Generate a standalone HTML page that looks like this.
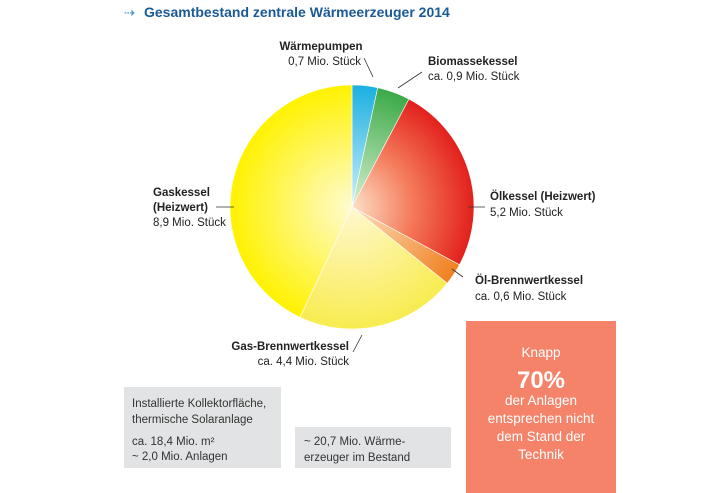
<!DOCTYPE html>
<html><head><meta charset="utf-8"><style>
body{margin:0;background:#fff;width:728px;height:493px;overflow:hidden;font-family:"Liberation Sans",sans-serif;}
svg{display:block}
</style></head><body>
<svg width="728" height="493" viewBox="0 0 728 493">
<defs>
<radialGradient id="gY" cx="352" cy="207" r="122" gradientUnits="userSpaceOnUse"><stop offset="0" stop-color="#fffbd0"/><stop offset="1" stop-color="#fff200"/></radialGradient>
<radialGradient id="gY2" cx="352" cy="207" r="122" gradientUnits="userSpaceOnUse"><stop offset="0" stop-color="#fff8d0"/><stop offset="1" stop-color="#f8ec50"/></radialGradient>
<radialGradient id="gR" cx="352" cy="207" r="122" gradientUnits="userSpaceOnUse"><stop offset="0" stop-color="#fde0c8"/><stop offset="0.5" stop-color="#f47a5a"/><stop offset="1" stop-color="#e2201c"/></radialGradient>
<radialGradient id="gO" cx="352" cy="207" r="122" gradientUnits="userSpaceOnUse"><stop offset="0" stop-color="#fde0c0"/><stop offset="1" stop-color="#f08020"/></radialGradient>
<radialGradient id="gG" cx="352" cy="207" r="122" gradientUnits="userSpaceOnUse"><stop offset="0" stop-color="#d8f0d0"/><stop offset="1" stop-color="#3caa48"/></radialGradient>
<radialGradient id="gB" cx="352" cy="207" r="122" gradientUnits="userSpaceOnUse"><stop offset="0" stop-color="#d0f0fa"/><stop offset="1" stop-color="#1ab0e0"/></radialGradient>
</defs>
<text x="124" y="17" font-size="13" fill="#3a8ac8">⇢</text>
<text x="144" y="17" font-size="14" font-weight="bold" fill="#1a5a96">Gesamtbestand zentrale Wärmeerzeuger 2014</text>
<g id="pie"></g>
<g font-size="11.5" fill="#222">
<text x="321" y="50" text-anchor="middle" font-weight="bold">Wärmepumpen</text>
<text x="361" y="65" text-anchor="end">0,7 Mio. Stück</text>
<line x1="364" y1="58" x2="373" y2="77" stroke="#333" stroke-width="0.8"/>
<text x="428" y="65" font-weight="bold">Biomassekessel</text>
<text x="428" y="80" >ca. 0,9 Mio. Stück</text>
<line x1="422" y1="72" x2="398" y2="88" stroke="#333" stroke-width="0.8"/>
<text x="490" y="200" font-weight="bold">Ölkessel (Heizwert)</text>
<text x="490" y="216">5,2 Mio. Stück</text>
<line x1="468" y1="207" x2="485" y2="207" stroke="#333" stroke-width="0.8"/>
<text x="475" y="284" font-weight="bold">Öl-Brennwertkessel</text>
<text x="475" y="300">ca. 0,6 Mio. Stück</text>
<line x1="452" y1="269" x2="463" y2="277" stroke="#333" stroke-width="0.8"/>
<text x="349" y="350" text-anchor="end" font-weight="bold">Gas-Brennwertkessel</text>
<text x="349" y="365" text-anchor="end">ca. 4,4 Mio. Stück</text>
<line x1="353" y1="352" x2="362" y2="335" stroke="#333" stroke-width="0.8"/>
<text x="153" y="196" font-weight="bold">Gaskessel</text>
<text x="153" y="211" font-weight="bold">(Heizwert)</text>
<text x="153" y="226">8,9 Mio. Stück</text>
<line x1="216" y1="207" x2="234" y2="207" stroke="#333" stroke-width="0.8"/>
</g>
<rect x="124" y="387" width="157" height="81" fill="#e2e3e4"/>
<g font-size="11.5" fill="#333">
<text x="132" y="407">Installierte Kollektorfläche,</text>
<text x="132" y="423">thermische Solaranlage</text>
<text x="132" y="445">ca. 18,4 Mio. m²</text>
<text x="132" y="460">~ 2,0 Mio. Anlagen</text>
</g>
<rect x="295" y="427" width="156" height="41" fill="#e2e3e4"/>
<g font-size="11.5" fill="#333">
<text x="304" y="445">~ 20,7 Mio. Wärme-</text>
<text x="304" y="461">erzeuger im Bestand</text>
</g>
<rect x="466" y="321" width="150" height="172" fill="#f4836a"/>
<g fill="#fff" text-anchor="middle" font-size="13.5">
<text x="541" y="357">Knapp</text>
<text x="541" y="388" font-size="24" font-weight="bold">70%</text>
<text x="541" y="405">der Anlagen</text>
<text x="541" y="423">entsprechen nicht</text>
<text x="541" y="441">dem Stand der</text>
<text x="541" y="459">Technik</text>
</g>
</svg>
<script>
const categories=["Wärmepumpen","Biomassekessel","Ölkessel (Heizwert)","Öl-Brennwertkessel","Gas-Brennwertkessel","Gaskessel (Heizwert)"];
const values=[0.7,0.9,5.2,0.6,4.4,8.9];
const fills=["url(#gB)","url(#gG)","url(#gR)","url(#gO)","url(#gY2)","url(#gY)"];
const cx=352,cy=207,R=122;
const total=values.reduce((a,b)=>a+b,0);
const g=document.getElementById('pie');
let a0=0;
function pt(a){return [cx+R*Math.sin(a),cy-R*Math.cos(a)];}
values.forEach((v,i)=>{
 const a1=a0+v/total*2*Math.PI;
 const p0=pt(a0),p1=pt(a1);
 const large=(a1-a0)>Math.PI?1:0;
 const p=document.createElementNS('http://www.w3.org/2000/svg','path');
 p.setAttribute('d',`M${cx},${cy}L${p0[0]},${p0[1]}A${R},${R} 0 ${large} 1 ${p1[0]},${p1[1]}Z`);
 p.setAttribute('fill',fills[i]);
 p.setAttribute('stroke','#fff');
 p.setAttribute('stroke-width','0.6');
 
 
 g.appendChild(p);
 a0=a1;
});
</script>
</body></html>
